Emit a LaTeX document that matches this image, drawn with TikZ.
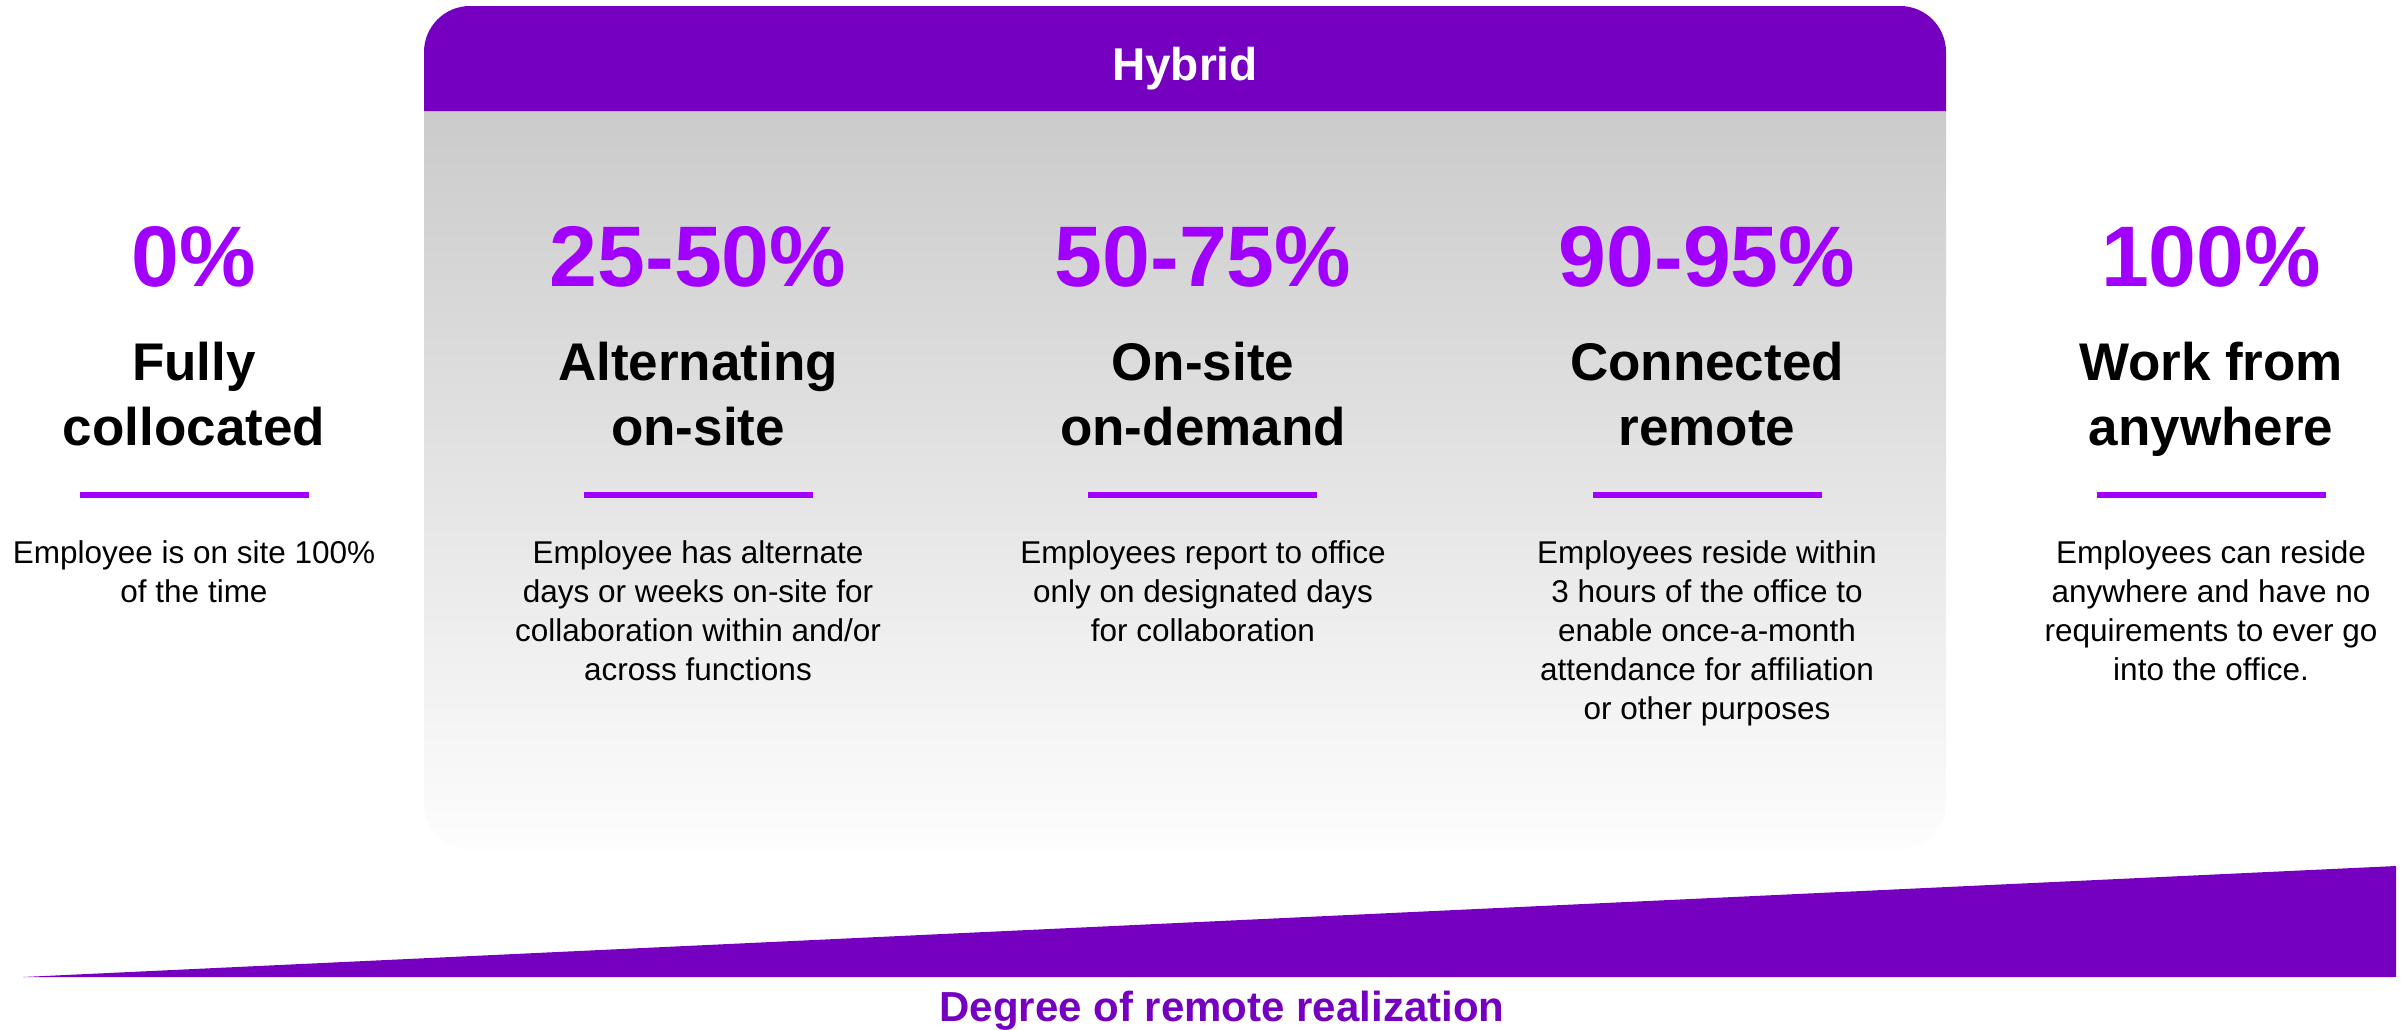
\documentclass[tikz,border=0pt]{standalone}
\usepackage{fontspec}
\setmainfont{Liberation Sans}
\definecolor{hdrpurple}{HTML}{7500C0}
\definecolor{brightpurple}{HTML}{A100FF}
\definecolor{bodytop}{HTML}{CBCBCB}
\definecolor{bodymid}{HTML}{EFEFEF}
\definecolor{bodybot}{HTML}{FDFDFD}
% multi-line nodes sit on the baseline of their last line
\tikzset{
  pct/.style={anchor=base, inner sep=0pt, text=brightpurple,
    font=\fontsize{86}{100}\selectfont\bfseries},
  ttl/.style={anchor=base, inner sep=0pt, align=center, text=black,
    font=\fontsize{53}{65}\selectfont\bfseries},
  desc/.style={anchor=base, inner sep=0pt, align=center, text=black,
    font=\fontsize{31.5}{39}\selectfont},
  rule/.style={draw=brightpurple, line width=6pt},
}
\begin{document}
\begin{tikzpicture}[x=1pt, y=-1pt]
\useasboundingbox (0,0) rectangle (2407,1029);
\fill[white] (0,0) rectangle (2407,1029);

% Hybrid panel: shaded body and purple header
\shade[top color=bodytop, middle color=bodymid, bottom color=bodybot]
  (424,111) -- (424,803) arc[start angle=180, end angle=90, radius=46]
  -- (1900,849) arc[start angle=90, end angle=0, radius=46]
  -- (1946,111) -- cycle;
\fill[hdrpurple]
  (424,111) -- (424,52) arc[start angle=180, end angle=270, radius=46]
  -- (1900,6) arc[start angle=270, end angle=360, radius=46]
  -- (1946,111) -- cycle;
\node[inner sep=0pt, anchor=base, text=white,
  font=\fontsize{46}{55}\selectfont\bfseries] (hybrid) at (1185,80) {Hybrid};

% Column 1
\node[pct] (p1) at (194,286) {0\%};
\node[ttl] (t1) at (194,445) {Fully\\collocated};
\coordinate (r1a) at (80,495); \coordinate (r1b) at (309,495);
\draw[rule] (r1a) -- (r1b);
\node[desc] (d1) at (194,602) {Employee is on site 100\%\\of the time};

% Column 2
\node[pct] (p2) at (698,286) {25-50\%};
\node[ttl] (t2) at (698,445) {Alternating\\on-site};
\coordinate (r2a) at (584,495); \coordinate (r2b) at (813,495);
\draw[rule] (r2a) -- (r2b);
\node[desc] (d2) at (698,680) {Employee has alternate\\days or weeks on-site for\\collaboration within and/or\\across functions};

% Column 3
\node[pct] (p3) at (1203,286) {50-75\%};
\node[ttl] (t3) at (1203,445) {On-site\\on-demand};
\coordinate (r3a) at (1088,495); \coordinate (r3b) at (1317,495);
\draw[rule] (r3a) -- (r3b);
\node[desc] (d3) at (1203,641) {Employees report to office\\only on designated days\\for collaboration};

% Column 4
\node[pct] (p4) at (1707,286) {90-95\%};
\node[ttl] (t4) at (1707,445) {Connected\\remote};
\coordinate (r4a) at (1593,495); \coordinate (r4b) at (1822,495);
\draw[rule] (r4a) -- (r4b);
\node[desc] (d4) at (1707,719) {Employees reside within\\3 hours of the office to\\enable once-a-month\\attendance for affiliation\\or other purposes};

% Column 5
\node[pct] (p5) at (2211,286) {100\%};
\node[ttl] (t5) at (2211,445) {Work from\\anywhere};
\coordinate (r5a) at (2097,495); \coordinate (r5b) at (2326,495);
\draw[rule] (r5a) -- (r5b);
\node[desc] (d5) at (2211,680) {Employees can reside\\anywhere and have no\\requirements to ever go\\into the office.};

% Wedge for the degree of remote realization
\coordinate (w1) at (23,977);
\coordinate (w2) at (2396,977);
\coordinate (w3) at (2396,866);
\fill[hdrpurple] (w1) -- (w2) -- (w3) -- cycle;
\node[inner sep=0pt, anchor=base, text=hdrpurple,
  font=\fontsize{42}{50}\selectfont\bfseries] (axis) at (1222,1021) {Degree of remote realization};
\end{tikzpicture}
\end{document}
